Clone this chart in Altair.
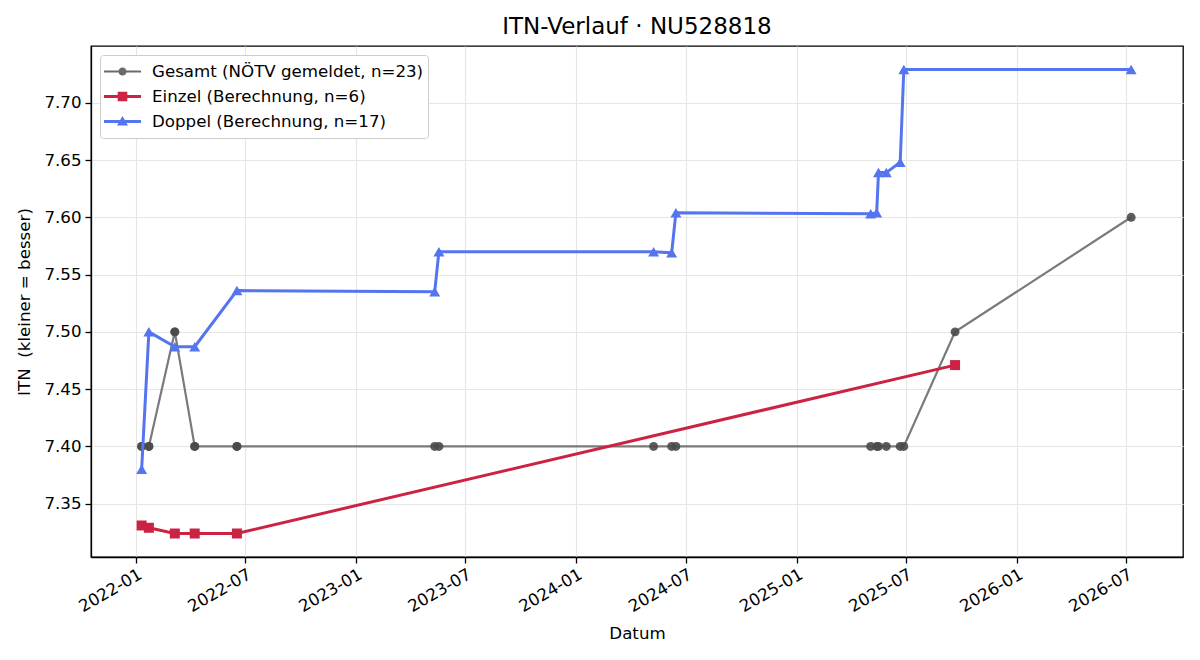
import altair as alt
import pandas as pd

series_names = [
    "Gesamt (NÖTV gemeldet, n=23)",
    "Einzel (Berechnung, n=6)",
    "Doppel (Berechnung, n=17)",
]

gesamt_dates = [
    "2022-01-10", "2022-01-10", "2022-01-22", "2022-01-22", "2022-03-06", "2022-03-06",
    "2022-04-08", "2022-04-08", "2022-06-17", "2022-06-17",
    "2023-05-11", "2023-05-18",
    "2024-05-08", "2024-06-07", "2024-06-14",
    "2025-05-03", "2025-05-13", "2025-05-16", "2025-05-29", "2025-06-21", "2025-06-27",
    "2025-09-20", "2026-07-09",
]
gesamt_values = [
    7.40, 7.40, 7.40, 7.40, 7.50, 7.50,
    7.40, 7.40, 7.40, 7.40,
    7.40, 7.40,
    7.40, 7.40, 7.40,
    7.40, 7.40, 7.40, 7.40, 7.40, 7.40,
    7.50, 7.60,
]

einzel_dates = ["2022-01-10", "2022-01-22", "2022-03-06", "2022-04-08", "2022-06-17", "2025-09-20"]
einzel_values = [7.331, 7.329, 7.324, 7.324, 7.324, 7.471]

doppel_dates = [
    "2022-01-10", "2022-01-22", "2022-03-06", "2022-04-08", "2022-06-17",
    "2023-05-11", "2023-05-18",
    "2024-05-08", "2024-06-07", "2024-06-14",
    "2025-05-03", "2025-05-13", "2025-05-16", "2025-05-29", "2025-06-21", "2025-06-27",
    "2026-07-09",
]
doppel_values = [
    7.380, 7.500, 7.487, 7.487, 7.536,
    7.535, 7.570,
    7.570, 7.569, 7.604,
    7.603, 7.604, 7.639, 7.639, 7.648, 7.729,
    7.729,
]

x_tick_months = [(2022, 1), (2022, 7), (2023, 1), (2023, 7), (2024, 1), (2024, 7),
                 (2025, 1), (2025, 7), (2026, 1), (2026, 7)]
y_tick_values = [7.35, 7.40, 7.45, 7.50, 7.55, 7.60, 7.65, 7.70]

rows = []
for name, dates, vals in zip(series_names,
                             [gesamt_dates, einzel_dates, doppel_dates],
                             [gesamt_values, einzel_values, doppel_values]):
    for d, v in zip(dates, vals):
        rows.append({"date": d, "value": v, "series": name})
df = pd.DataFrame(rows)

FONT = "DejaVu Sans"
FS = 16.67
line_colors = ["#7a7a7a", "#cc2244", "#5575f0"]
point_colors = ["#4a4a4a", "#cc2244", "#5575f0"]
line_widths = [2.2, 3.0, 3.0]
point_shapes = ["circle", "square", "triangle-up"]
point_sizes = [80, 100, 120]

legend_paths = [
    "M-1,-0.06H1V0.06H-1Z M-0.22,0 A0.22,0.22 0 1,1 0.22,0 A0.22,0.22 0 1,1 -0.22,0Z",
    "M-1,-0.08H1V0.08H-1Z M-0.26,-0.26H0.26V0.26H-0.26Z",
    "M-1,-0.08H1V0.08H-1Z M0,-0.3L0.3,0.22H-0.3Z",
]
legend_colors = ["#6a6a6a", "#cc2244", "#5575f0"]

x_scale = alt.Scale(
    type="utc",
    domain=[alt.DateTime(year=2021, month=10, date=18, utc=True),
            alt.DateTime(year=2026, month=10, date=3, utc=True)],
    nice=False,
)
y_scale = alt.Scale(domain=[7.3035, 7.7495], nice=False, zero=False)

x_axis = alt.Axis(
    values=[alt.DateTime(year=y, month=m, date=1, utc=True) for y, m in x_tick_months],
    labelExpr="utcFormat(datum.value, '%Y-%m')",
    labelAngle=330, labelAlign="right", labelBaseline="top",
    labelPadding=3, tickSize=6, titlePadding=10,
)
y_axis = alt.Axis(values=y_tick_values, format=".2f", tickSize=6, labelPadding=4, titlePadding=10)

base = alt.Chart(df).encode(
    x=alt.X("date:T", scale=x_scale, axis=x_axis, title="Datum"),
    y=alt.Y("value:Q", scale=y_scale, axis=y_axis, title="ITN\u00a0 (kleiner = besser)"),
)

layers = []
for i, name in enumerate(series_names):
    sub = base.transform_filter(alt.datum.series == name)
    layers.append(sub.mark_line(color=line_colors[i], strokeWidth=line_widths[i]))
    layers.append(sub.mark_point(shape=point_shapes[i], filled=True, size=point_sizes[i],
                                 color=point_colors[i], opacity=0.9 if i == 0 else 1,
                                 strokeWidth=0))

legend = alt.Legend(
    title=None, orient="top-left", offset=9, padding=4,
    strokeColor="#cccccc", fillColor="white", cornerRadius=3,
    labelFontSize=FS, labelFont=FONT, labelColor="black", labelLimit=0, labelOffset=11,
    symbolSize=1369, symbolStrokeWidth=0, symbolOpacity=1, clipHeight=25, rowPadding=0,
)
legend_layer = base.transform_filter("false").mark_point(
    filled=True, size=1369, strokeWidth=0, opacity=1
).encode(
    color=alt.Color("series:N", scale=alt.Scale(domain=series_names, range=legend_colors),
                    legend=legend),
    shape=alt.Shape("series:N", scale=alt.Scale(domain=series_names, range=legend_paths),
                    legend=legend),
)
layers.append(legend_layer)

chart = alt.layer(*layers).properties(
    width=1092, height=511,
    padding={"left": 91, "top": 46, "right": 17, "bottom": 103},
    autosize=alt.AutoSizeParams(type="none"),
    title=alt.TitleParams("ITN-Verlauf · NU528818", fontSize=23, font=FONT,
                          fontWeight="normal", anchor="middle", offset=7, color="black"),
).configure_view(
    stroke="black", strokeWidth=1.3
).configure_axis(
    labelFont=FONT, titleFont=FONT, labelFontSize=FS, titleFontSize=FS,
    labelColor="black", titleColor="black", titleFontWeight="normal",
    domainColor="black", domainWidth=1.3, tickColor="black", tickWidth=1.3,
    gridColor="#e6e6e6", gridWidth=1.2,
)

chart.save("out.html", embed_options={"renderer": "svg", "actions": False})
